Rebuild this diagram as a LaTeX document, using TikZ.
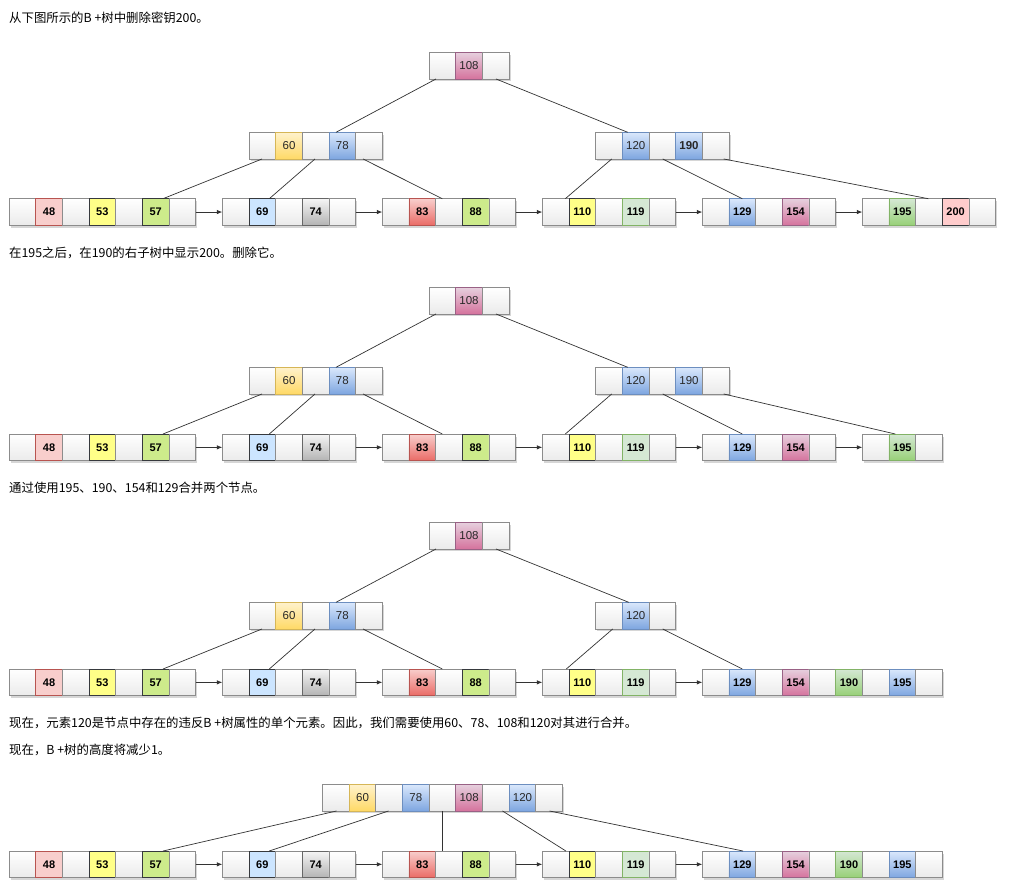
\documentclass[tikz,border=0pt]{standalone}
\usepackage{fontspec}
\setmainfont{Liberation Sans}
\newfontfamily\cjk{Noto Sans CJK SC}
\usetikzlibrary{arrows.meta}
\definecolor{strokeE}{HTML}{8C8C8C}
\definecolor{edgec}{HTML}{333333}
\def\cw{26.67}
\tikzset{
  cellbox/.style={minimum width=\cw pt, minimum height=\cw pt, inner sep=0pt, outer sep=0pt, line width=0.75pt},
  e/.style={top color=white, bottom color=black!8, draw=strokeE},
  pkg/.style={top color={rgb,255:red,230;green,208;blue,222}, bottom color={rgb,255:red,213;green,115;blue,157}, draw={rgb,255:red,153;green,97;blue,133}},
  yeg/.style={top color={rgb,255:red,255;green,242;blue,204}, bottom color={rgb,255:red,255;green,217;blue,102}, draw={rgb,255:red,214;green,182;blue,86}},
  blg/.style={top color={rgb,255:red,218;green,232;blue,252}, bottom color={rgb,255:red,126;green,166;blue,224}, draw={rgb,255:red,108;green,142;blue,191}},
  rdf/.style={fill={rgb,255:red,248;green,206;blue,204}, draw={rgb,255:red,184;green,84;blue,80}},
  yef/.style={fill={rgb,255:red,255;green,255;blue,136}, draw={rgb,255:red,54;green,57;blue,61}},
  lmf/.style={fill={rgb,255:red,205;green,235;blue,139}, draw={rgb,255:red,54;green,57;blue,61}},
  lbf/.style={fill={rgb,255:red,204;green,229;blue,255}, draw={rgb,255:red,54;green,57;blue,61}},
  gyg/.style={top color={rgb,255:red,245;green,245;blue,245}, bottom color={rgb,255:red,179;green,179;blue,179}, draw={rgb,255:red,102;green,102;blue,102}},
  rdg/.style={top color={rgb,255:red,248;green,206;blue,204}, bottom color={rgb,255:red,234;green,107;blue,102}, draw={rgb,255:red,184;green,84;blue,80}},
  gnf/.style={fill={rgb,255:red,213;green,232;blue,212}, draw={rgb,255:red,130;green,179;blue,102}},
  gng/.style={top color={rgb,255:red,213;green,232;blue,212}, bottom color={rgb,255:red,151;green,208;blue,119}, draw={rgb,255:red,130;green,179;blue,102}},
  pkf/.style={fill={rgb,255:red,255;green,204;blue,204}, draw={rgb,255:red,54;green,57;blue,61}},
  innerkey/.style={font=\fontsize{11.5}{13}\selectfont, text={rgb,255:red,40;green,40;blue,40}},
  leafkey/.style={font=\fontsize{11}{13}\selectfont\bfseries, text=black},
  framebox/.style={minimum height=\cw pt, inner sep=0pt, outer sep=0pt, draw=none, anchor=north west},
  shadowbox/.style={fill=black, opacity=0.16},
  edge/.style={draw=edgec, line width=0.7pt},
  arr/.style={draw=edgec, line width=0.75pt, -{Latex[length=5.5pt,width=4.5pt]}},
  caption/.style={anchor=west, inner sep=0pt, font=\cjk\fontsize{12.4}{14}\selectfont}
}
% #1 key style, #2 name, #3 x, #4 y, #5 number of cells, #6 cells
\newcommand{\bpn}[6]{%
  \fill[shadowbox] (#3+1.5,#4+2.5) rectangle ({#3+#5*\cw+1.5},{#4+\cw+2.5});
  \node[framebox, minimum width={#5*\cw pt}] (#2) at (#3,#4) {};
  \foreach [count=\ci] \cst/\ctx in {#6} {%
    \node[cellbox,#1,\cst,anchor=north west] (#2-\ci) at ({#3+(\ci-1)*\cw},#4) {\ctx};
  }%
}
\begin{document}
\begin{tikzpicture}[x=1pt,y=-1pt]
\useasboundingbox (0,0) rectangle (1017,887);
\fill[white] (0,0) rectangle (1017,887);

% ---------------- Panel 1 ----------------
\node[caption] (t1) at (9,17.5) {从下图所示的B +树中删除密钥200。};
\bpn{innerkey}{p1r}{429}{52.3}{3}{e/{},pkg/108,e/{}}
\bpn{innerkey}{p1L}{249}{132.3}{5}{e/{},yeg/60,e/{},blg/78,e/{}}
\bpn{innerkey}{p1R}{595.7}{132.3}{5}{e/{},blg/120,e/{},blg/{\bfseries 190},e/{}}
\bpn{leafkey}{p1a}{9}{198.7}{7}{e/{},rdf/48,e/{},yef/53,e/{},lmf/57,e/{}}
\bpn{leafkey}{p1b}{222.3}{198.7}{5}{e/{},lbf/69,e/{},gyg/74,e/{}}
\bpn{leafkey}{p1c}{382.3}{198.7}{5}{e/{},rdg/83,e/{},lmf/88,e/{}}
\bpn{leafkey}{p1d}{542.3}{198.7}{5}{e/{},yef/110,e/{},gnf/119,e/{}}
\bpn{leafkey}{p1e}{702.3}{198.7}{5}{e/{},blg/129,e/{},pkg/154,e/{}}
\bpn{leafkey}{p1f}{862.3}{198.7}{5}{e/{},gng/195,e/{},pkf/200,e/{}}
\draw[edge] ([xshift=7pt]p1r.south west) -- ([xshift=87pt]p1L.north west);
\draw[edge] ([xshift=67pt]p1r.south west) -- ([xshift=32pt]p1R.north west);
\draw[edge] ([xshift=13pt]p1L.south west) -- ([xshift=154pt]p1a.north west);
\draw[edge] ([xshift=66pt]p1L.south west) -- ([xshift=47pt]p1b.north west);
\draw[edge] ([xshift=114pt]p1L.south west) -- ([xshift=60pt]p1c.north west);
\draw[edge] ([xshift=16pt]p1R.south west) -- ([xshift=23pt]p1d.north west);
\draw[edge] ([xshift=67pt]p1R.south west) -- ([xshift=40pt]p1e.north west);
\draw[edge] ([xshift=128pt]p1R.south west) -- ([xshift=66pt]p1f.north west);
\draw[arr] (p1a.east) -- (p1b.west);
\draw[arr] (p1b.east) -- (p1c.west);
\draw[arr] (p1c.east) -- (p1d.west);
\draw[arr] (p1d.east) -- (p1e.west);
\draw[arr] (p1e.east) -- (p1f.west);

% ---------------- Panel 2 ----------------
\node[caption] (t2) at (9,253) {在195之后，在190的右子树中显示200。删除它。};
\bpn{innerkey}{p2r}{429}{287.3}{3}{e/{},pkg/108,e/{}}
\bpn{innerkey}{p2L}{249}{367.3}{5}{e/{},yeg/60,e/{},blg/78,e/{}}
\bpn{innerkey}{p2R}{595.7}{367.3}{5}{e/{},blg/120,e/{},blg/190,e/{}}
\bpn{leafkey}{p2a}{9}{434}{7}{e/{},rdf/48,e/{},yef/53,e/{},lmf/57,e/{}}
\bpn{leafkey}{p2b}{222.3}{434}{5}{e/{},lbf/69,e/{},gyg/74,e/{}}
\bpn{leafkey}{p2c}{382.3}{434}{5}{e/{},rdg/83,e/{},lmf/88,e/{}}
\bpn{leafkey}{p2d}{542.3}{434}{5}{e/{},yef/110,e/{},gnf/119,e/{}}
\bpn{leafkey}{p2e}{702.3}{434}{5}{e/{},blg/129,e/{},pkg/154,e/{}}
\bpn{leafkey}{p2f}{862.3}{434}{3}{e/{},gng/195,e/{}}
\draw[edge] ([xshift=7pt]p2r.south west) -- ([xshift=87pt]p2L.north west);
\draw[edge] ([xshift=67pt]p2r.south west) -- ([xshift=32pt]p2R.north west);
\draw[edge] ([xshift=13pt]p2L.south west) -- ([xshift=154pt]p2a.north west);
\draw[edge] ([xshift=66pt]p2L.south west) -- ([xshift=47pt]p2b.north west);
\draw[edge] ([xshift=114pt]p2L.south west) -- ([xshift=60pt]p2c.north west);
\draw[edge] ([xshift=16pt]p2R.south west) -- ([xshift=23pt]p2d.north west);
\draw[edge] ([xshift=67pt]p2R.south west) -- ([xshift=40pt]p2e.north west);
\draw[edge] ([xshift=128pt]p2R.south west) -- ([xshift=33pt]p2f.north west);
\draw[arr] (p2a.east) -- (p2b.west);
\draw[arr] (p2b.east) -- (p2c.west);
\draw[arr] (p2c.east) -- (p2d.west);
\draw[arr] (p2d.east) -- (p2e.west);
\draw[arr] (p2e.east) -- (p2f.west);

% ---------------- Panel 3 ----------------
\node[caption] (t3) at (9,487.5) {通过使用195、190、154和129合并两个节点。};
\bpn{innerkey}{p3r}{429}{522.3}{3}{e/{},pkg/108,e/{}}
\bpn{innerkey}{p3L}{249}{602.3}{5}{e/{},yeg/60,e/{},blg/78,e/{}}
\bpn{innerkey}{p3R}{595.7}{602.3}{3}{e/{},blg/120,e/{}}
\bpn{leafkey}{p3a}{9}{669}{7}{e/{},rdf/48,e/{},yef/53,e/{},lmf/57,e/{}}
\bpn{leafkey}{p3b}{222.3}{669}{5}{e/{},lbf/69,e/{},gyg/74,e/{}}
\bpn{leafkey}{p3c}{382.3}{669}{5}{e/{},rdg/83,e/{},lmf/88,e/{}}
\bpn{leafkey}{p3d}{542.3}{669}{5}{e/{},yef/110,e/{},gnf/119,e/{}}
\bpn{leafkey}{p3e}{702.3}{669}{9}{e/{},blg/129,e/{},pkg/154,e/{},gng/190,e/{},blg/195,e/{}}
\draw[edge] ([xshift=7pt]p3r.south west) -- ([xshift=87pt]p3L.north west);
\draw[edge] ([xshift=67pt]p3r.south west) -- ([xshift=33pt]p3R.north west);
\draw[edge] ([xshift=13pt]p3L.south west) -- ([xshift=154pt]p3a.north west);
\draw[edge] ([xshift=66pt]p3L.south west) -- ([xshift=47pt]p3b.north west);
\draw[edge] ([xshift=114pt]p3L.south west) -- ([xshift=60pt]p3c.north west);
\draw[edge] ([xshift=17pt]p3R.south west) -- ([xshift=24pt]p3d.north west);
\draw[edge] ([xshift=67pt]p3R.south west) -- ([xshift=40pt]p3e.north west);
\draw[arr] (p3a.east) -- (p3b.west);
\draw[arr] (p3b.east) -- (p3c.west);
\draw[arr] (p3c.east) -- (p3d.west);
\draw[arr] (p3d.east) -- (p3e.west);

% ---------------- Panel 4 ----------------
\node[caption] (t4) at (9,722.5) {现在，元素120是节点中存在的违反B +树属性的单个元素。因此，我们需要使用60、78、108和120对其进行合并。};
\node[caption] (t5) at (9,750) {现在，B +树的高度将减少1。};
\bpn{innerkey}{p4r}{322.5}{784.3}{9}{e/{},yeg/60,e/{},blg/78,e/{},pkg/108,e/{},blg/120,e/{}}
\bpn{leafkey}{p4a}{9}{851}{7}{e/{},rdf/48,e/{},yef/53,e/{},lmf/57,e/{}}
\bpn{leafkey}{p4b}{222.3}{851}{5}{e/{},lbf/69,e/{},gyg/74,e/{}}
\bpn{leafkey}{p4c}{382.3}{851}{5}{e/{},rdg/83,e/{},lmf/88,e/{}}
\bpn{leafkey}{p4d}{542.3}{851}{5}{e/{},yef/110,e/{},gnf/119,e/{}}
\bpn{leafkey}{p4e}{702.3}{851}{9}{e/{},blg/129,e/{},pkg/154,e/{},gng/190,e/{},blg/195,e/{}}
\draw[edge] ([xshift=14pt]p4r.south west) -- ([xshift=154pt]p4a.north west);
\draw[edge] ([xshift=66pt]p4r.south west) -- ([xshift=47pt]p4b.north west);
\draw[edge] ([xshift=120pt]p4r.south west) -- ([xshift=60.2pt]p4c.north west);
\draw[edge] ([xshift=180pt]p4r.south west) -- ([xshift=23.6pt]p4d.north west);
\draw[edge] ([xshift=227pt]p4r.south west) -- ([xshift=40.7pt]p4e.north west);
\draw[arr] (p4a.east) -- (p4b.west);
\draw[arr] (p4b.east) -- (p4c.west);
\draw[arr] (p4c.east) -- (p4d.west);
\draw[arr] (p4d.east) -- (p4e.west);
\end{tikzpicture}
\end{document}
